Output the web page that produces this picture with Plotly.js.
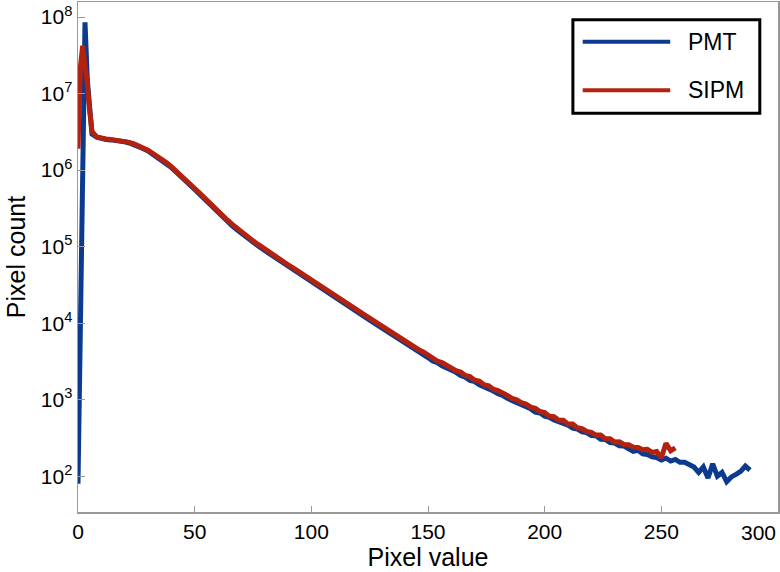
<!DOCTYPE html>
<html>
<head>
<meta charset="utf-8">
<script src="https://cdn.plot.ly/plotly-3.0.1.min.js"></script>
<style>html,body{margin:0;padding:0;background:#fff;}#chart{width:780px;height:572px;}</style>
</head>
<body>
<div id="chart"></div>
<script>
// PMT series
const pmtX = [0,1,2,3,4,5,6,8,10,12,14,16,18,20,22,24,26,28,30,32,34,36,38,40,42,44,46,48,50,52,54,56,58,60,62,64,66,68,70,72,74,76,78,80,82,84,86,88,90,92,94,96,98,100,102,104,106,108,110,112,114,116,118,120,122,124,126,128,130,132,134,136,138,140,142,144,146,148,150,152,154,156,158,160,162,164,166,168,170,172,174,176,178,180,182,184,186,188,190,192,194,196,198,200,202,204,206,208,210,212,214,216,218,220,222,224,226,228,230,232,234,236,238,240,242,244,246,248,250,252,254,256,258,260,262,264,266,268,270,272,274,276,278,280,282,284,286,288];
const pmtY = [80,6e3,1e6,8.5e7,1.5e7,5e6,2.95e6,2.7e6,2.57e6,2.5e6,2.48e6,2.45e6,2.42e6,2.34e6,2.26e6,2.16e6,2.04e6,1.9e6,1.78e6,1.62e6,1.48e6,1.35e6,1.22e6,1.08e6,9.5e5,8.4e5,7.4e5,6.45e5,5.6e5,4.88e5,4.23e5,3.66e5,3.18e5,2.77e5,2.43e5,2.13e5,1.88e5,1.67e5,1.49e5,1.33e5,1.2e5,1.08e5,9.8e4,8.9e4,8.1e4,7.4e4,6.7e4,6.1e4,5.5e4,5.0e4,4.57e4,4.17e4,3.8e4,3.47e4,3.16e4,2.88e4,2.63e4,2.4e4,2.19e4,2.0e4,1.82e4,1.66e4,1.52e4,1.38e4,1.26e4,1.15e4,1.05e4,9.6e3,8.8e3,8.0e3,7.3e3,6.7e3,6.1e3,5.5e3,5.0e3,4.6e3,4.2e3,3.85e3,3.55e3,3.2e3,3.05e3,2.78e3,2.62e3,2.4e3,2.28e3,2.07e3,1.97e3,1.78e3,1.72e3,1.57e3,1.49e3,1.36e3,1.3e3,1.2e3,1.14e3,1.04e3,980,910,870,790,760,690,670,610,590,545,520,480,465,425,415,380,372,340,338,305,302,275,272,250,248,228,212,218,196,192,180,176,163,172,158,166,152,152,143,132,112,132,95,145,100,112,85,98,106,116,136,120];

// SIPM series
const sipmX = [0,1,2,3,4,5,6,8,10,12,14,16,18,20,22,24,26,28,30,32,34,36,38,40,42,44,46,48,50,52,54,56,58,60,62,64,66,68,70,72,74,76,78,80,82,84,86,88,90,92,94,96,98,100,102,104,106,108,110,112,114,116,118,120,122,124,126,128,130,132,134,136,138,140,142,144,146,148,150,152,154,156,158,160,162,164,166,168,170,172,174,176,178,180,182,184,186,188,190,192,194,196,198,200,202,204,206,208,210,212,214,216,218,220,222,224,226,228,230,232,234,236,238,240,242,244,246,248,250,252,254,256];
const sipmY = [1.9e6,2.2e7,4.2e7,2.6e7,1.3e7,6e6,3.2e6,2.72e6,2.6e6,2.55e6,2.52e6,2.48e6,2.45e6,2.38e6,2.3e6,2.2e6,2.08e6,1.94e6,1.82e6,1.66e6,1.52e6,1.38e6,1.25e6,1.11e6,9.8e5,8.65e5,7.6e5,6.65e5,5.8e5,5.05e5,4.4e5,3.8e5,3.3e5,2.88e5,2.53e5,2.23e5,1.97e5,1.75e5,1.56e5,1.4e5,1.26e5,1.13e5,1.03e5,9.3e4,8.5e4,7.8e4,7.05e4,6.4e4,5.8e4,5.3e4,4.82e4,4.4e4,4.0e4,3.65e4,3.33e4,3.04e4,2.77e4,2.53e4,2.31e4,2.11e4,1.93e4,1.76e4,1.6e4,1.46e4,1.33e4,1.22e4,1.11e4,1.02e4,9.3e3,8.5e3,7.8e3,7.1e3,6.5e3,5.9e3,5.3e3,4.95e3,4.5e3,4.2e3,3.8e3,3.55e3,3.2e3,3.05e3,2.78e3,2.62e3,2.4e3,2.3e3,2.07e3,2.0e3,1.8e3,1.75e3,1.57e3,1.52e3,1.37e3,1.32e3,1.2e3,1.14e3,1.04e3,1.0e3,915,880,800,770,700,680,610,600,540,540,480,480,430,420,385,375,345,345,310,310,280,282,260,258,240,238,222,225,205,210,175,270,215,235];

const seriesNames = ["PMT", "SIPM"];
const seriesColors = ["#0c3a8e", "#b3220f"];
const xTickVals = [0,50,100,150,200,250,300];
const xTickText = ["0","50","100","150","200","250",""];
const xLastTickLabel = "300";
const yTickVals = [1e2,1e3,1e4,1e5,1e6,1e7,1e8];
const yTickText = ["10<sup>2</sup>","10<sup>3</sup>","10<sup>4</sup>","10<sup>5</sup>","10<sup>6</sup>","10<sup>7</sup>","10<sup>8</sup>"];
const yMinorMultipliers = [2,3,4,5,6,7,8,9];

const font = "Liberation Sans, Arial, Helvetica, sans-serif";

// minor tick positions for the log axis (axis decoration)
const yMinorVals = [];
[10,100,1e3,1e4,1e5,1e6,1e7,1e8].forEach(d => yMinorMultipliers.forEach(m => yMinorVals.push(d * m)));

const traces = [
  {x: pmtX, y: pmtY, type: "scatter", mode: "lines", name: seriesNames[0],
   line: {color: seriesColors[0], width: 5}},
  {x: sipmX, y: sipmY, type: "scatter", mode: "lines", name: seriesNames[1],
   line: {color: seriesColors[1], width: 5}}
];

// legend drawn as box
const lx0 = 0.707, lx1 = 0.974, ly0 = 0.782, ly1 = 0.965;
const shapes = [
  {type: "rect", xref: "paper", yref: "paper", x0: lx0, x1: lx1, y0: ly0, y1: ly1,
   line: {color: "#000", width: 3}, fillcolor: "#fff"},
  {type: "line", xref: "paper", yref: "paper", x0: 0.721, x1: 0.846, y0: 0.922, y1: 0.922,
   line: {color: seriesColors[0], width: 4}},
  {type: "line", xref: "paper", yref: "paper", x0: 0.721, x1: 0.846, y0: 0.827, y1: 0.827,
   line: {color: seriesColors[1], width: 4}}
];
const annotations = [
  {xref: "paper", yref: "paper", x: 0.868, y: 0.922, xanchor: "left", yanchor: "middle",
   text: seriesNames[0], showarrow: false, font: {family: font, size: 23, color: "#000"}},
  {xref: "paper", yref: "paper", x: 0.868, y: 0.827, xanchor: "left", yanchor: "middle",
   text: seriesNames[1], showarrow: false, font: {family: font, size: 23, color: "#000"}},
  // last x tick label, kept inside the picture
  {xref: "paper", yref: "paper", x: 1, y: 0, xanchor: "right", yanchor: "top", yshift: -7,
   text: xLastTickLabel, showarrow: false, font: {family: font, size: 21, color: "#000"}}
];

const layout = {
  width: 780, height: 572,
  margin: {l: 78, r: 2, t: 2, b: 60},
  paper_bgcolor: "#fff", plot_bgcolor: "#fff",
  showlegend: false,
  font: {family: font, size: 21, color: "#000"},
  xaxis: {
    range: [0, 300], tickvals: xTickVals, ticktext: xTickText, ticks: "inside", ticklen: 6,
    tickcolor: "#999", linecolor: "#999", linewidth: 1.5, mirror: true,
    showgrid: false, zeroline: false,
    tickfont: {family: font, size: 21, color: "#000"},
    title: {text: "Pixel value", font: {family: font, size: 25, color: "#000"}, standoff: 6}
  },
  yaxis: {
    type: "log", range: [1.533, 8.196], tickvals: yTickVals, ticktext: yTickText,
    ticks: "inside", ticklen: 7, tickcolor: "#999", linecolor: "#999", linewidth: 1.5,
    mirror: true, showgrid: false, zeroline: false,
    tickfont: {family: font, size: 21, color: "#000"},
    title: {text: "Pixel count", font: {family: font, size: 25, color: "#000"}, standoff: 8}
  },
  yaxis2: {
    type: "log", range: [1.533, 8.196], overlaying: "y", side: "left",
    tickvals: yMinorVals, showticklabels: false, ticks: "inside", ticklen: 4,
    tickcolor: "#aaa", showline: false, showgrid: false, zeroline: false
  },
  shapes: shapes,
  annotations: annotations
};

Plotly.newPlot("chart", traces, layout, {staticPlot: true, displayModeBar: false});
</script>
</body>
</html>
